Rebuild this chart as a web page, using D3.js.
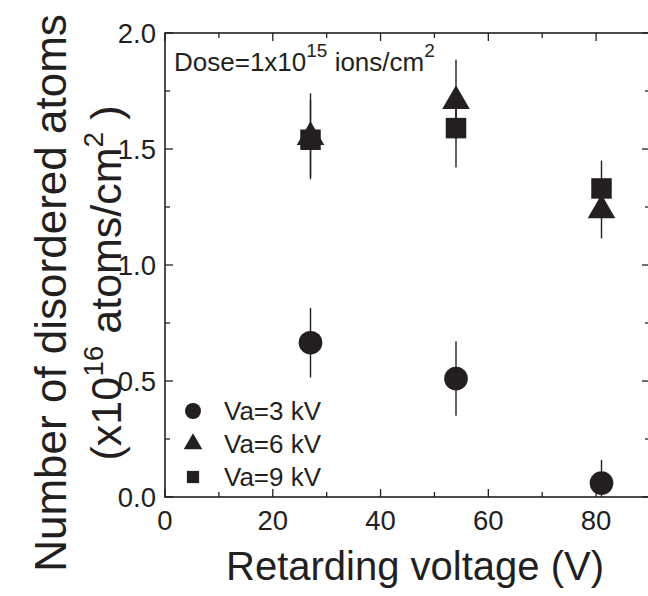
<!DOCTYPE html>
<html>
<head>
<meta charset="utf-8">
<script src="https://cdn.jsdelivr.net/npm/d3@7"></script>
<style>
  body { margin: 0; background: #fff; }
  text { font-family: "Liberation Sans", Arial, sans-serif; fill: #231f20; }
</style>
</head>
<body>
<div id="chart"></div>
<script>
// Data
var voltages = [27, 54, 81];
var series = ["Va=3 kV", "Va=6 kV", "Va=9 kV"];
var symbols = ["circle", "triangle", "square"];
var va3 = [0.665, 0.51, 0.06];
var va6 = [1.56, 1.715, 1.245];
var va9 = [1.54, 1.59, 1.33];
var err3 = [0.15, 0.16, 0.10];
var err6 = [0.18, 0.17, 0.13];
var err9 = [0.17, 0.17, 0.12];
var xTicks = [0, 20, 40, 60, 80];
var yTicks = [0.0, 0.5, 1.0, 1.5, 2.0];

var width = 648, height = 596;
var margin = {left: 165, top: 33, right: -2, bottom: 99};
var ink = "#231f20";

var svg = d3.select("#chart").append("svg")
    .attr("width", width)
    .attr("height", height);

var x = d3.scaleLinear().domain([0, 90]).range([margin.left, width - margin.right]);
var y = d3.scaleLinear().domain([0, 2]).range([height - margin.bottom, margin.top]);

// plot contents
var allSeries = [
  {name: series[0], sym: symbols[0], vals: va3, errs: err3},
  {name: series[1], sym: symbols[1], vals: va6, errs: err6},
  {name: series[2], sym: symbols[2], vals: va9, errs: err9}
];

function symbolPath(sym, size) {
  var type = sym == "circle" ? d3.symbolCircle : sym == "triangle" ? d3.symbolTriangle : d3.symbolSquare;
  return d3.symbol().type(type).size(size)();
}
var bigSize = {circle: 440, triangle: 330, square: 420};
var smallSize = {circle: 200, triangle: 150, square: 150};

var plot = svg.append("g");

// error bars first
allSeries.forEach(function(s) {
  plot.selectAll(null)
    .data(voltages)
    .enter().append("line")
      .attr("x1", function(d) { return x(d); })
      .attr("x2", function(d) { return x(d); })
      .attr("y1", function(d, i) { return y(Math.max(0, s.vals[i] - s.errs[i])); })
      .attr("y2", function(d, i) { return y(s.vals[i] + s.errs[i]); })
      .attr("stroke", ink)
      .attr("stroke-width", 1.4);
});

allSeries.forEach(function(s) {
  plot.selectAll(null)
    .data(voltages)
    .enter().append("path")
      .attr("d", symbolPath(s.sym, bigSize[s.sym]))
      .attr("transform", function(d, i) {
        var dy = s.sym == "triangle" ? 2 : 0;
        return "translate(" + x(d) + "," + (y(s.vals[i]) + dy) + ")";
      })
      .attr("fill", ink);
});

// axes with inward ticks on all four sides
var x0 = x.range()[0], x1 = x.range()[1], y0 = y.range()[0], y1 = y.range()[1];
var axes = svg.append("g").attr("stroke", ink);

var xMinor = d3.range(0, 91, 10);
var yMinor = d3.range(0, 2.01, 0.25);

xMinor.forEach(function(v) {
  var len = (v % 20 == 0) ? 8 : 5;
  axes.append("line").attr("x1", x(v)).attr("x2", x(v)).attr("y1", y0).attr("y2", y0 - len).attr("stroke-width", 1.3);
  axes.append("line").attr("x1", x(v)).attr("x2", x(v)).attr("y1", y1).attr("y2", y1 + len).attr("stroke-width", 1.3);
});
yMinor.forEach(function(v) {
  var major = Math.abs(v * 2 - Math.round(v * 2)) < 1e-6;
  var len = major ? 8 : 5;
  axes.append("line").attr("x1", x0).attr("x2", x0 + len).attr("y1", y(v)).attr("y2", y(v)).attr("stroke-width", 1.3);
  axes.append("line").attr("x1", x1).attr("x2", x1 - len).attr("y1", y(v)).attr("y2", y(v)).attr("stroke-width", 1.3);
});

axes.append("rect")
  .attr("x", x0).attr("y", y1)
  .attr("width", x1 - x0).attr("height", y0 - y1)
  .attr("fill", "none")
  .attr("stroke-width", 1.6);

// tick labels
svg.selectAll(".xlab")
  .data(xTicks)
  .enter().append("text")
    .attr("x", function(d) { return x(d); })
    .attr("y", y0 + 33)
    .attr("text-anchor", "middle")
    .attr("font-size", 27.5)
    .text(function(d) { return d; });

svg.selectAll(".ylab")
  .data(yTicks)
  .enter().append("text")
    .attr("x", x0 - 9)
    .attr("y", function(d) { return y(d) + 10; })
    .attr("text-anchor", "end")
    .attr("font-size", 27.5)
    .text(function(d) { return d3.format(".1f")(d); });

// axis titles
svg.append("text")
  .attr("x", 415)
  .attr("y", 580)
  .attr("text-anchor", "middle")
  .attr("font-size", 40)
  .text("Retarding voltage (V)");

var yt = svg.append("g").attr("transform", "translate(66,293) rotate(-90)");
yt.append("text")
  .attr("text-anchor", "middle")
  .attr("font-size", 44)
  .text("Number of disordered atoms");

var yt2 = yt.append("text")
  .attr("text-anchor", "middle")
  .attr("y", 55)
  .attr("x", 10)
  .attr("font-size", 43);
yt2.append("tspan").text("(x10");
yt2.append("tspan").attr("dy", -18).attr("font-size", 28).text("16");
yt2.append("tspan").attr("dy", 18).text(" atoms/cm");
yt2.append("tspan").attr("dy", -18).attr("font-size", 28).text("2");
yt2.append("tspan").attr("dy", 18).text(" )");

// dose annotation
var dose = svg.append("text")
  .attr("x", 174)
  .attr("y", 71)
  .attr("font-size", 26);
dose.append("tspan").text("Dose=1x10");
dose.append("tspan").attr("dy", -14).attr("font-size", 19).text("15");
dose.append("tspan").attr("dy", 14).text(" ions/cm");
dose.append("tspan").attr("dy", -14).attr("font-size", 19).text("2");

// legend
var legend = svg.append("g");
allSeries.forEach(function(s, i) {
  var ly = 411 + i * 33;
  legend.append("path")
    .attr("d", symbolPath(s.sym, smallSize[s.sym]))
    .attr("transform", "translate(193," + ly + ")")
    .attr("fill", ink);
  legend.append("text")
    .attr("x", 224)
    .attr("y", ly + 9)
    .attr("font-size", 26)
    .text(s.name);
});
</script>
</body>
</html>
